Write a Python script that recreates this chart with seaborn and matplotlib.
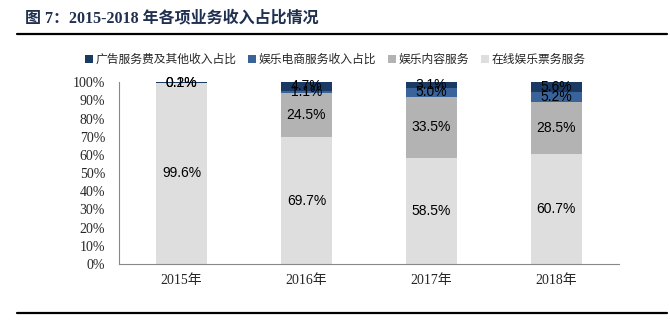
import matplotlib
matplotlib.use("Agg")
import matplotlib.pyplot as plt
import seaborn as sns
import pandas as pd
import numpy as np
from matplotlib.lines import Line2D
from matplotlib.patches import Patch

years = ["2015年", "2016年", "2017年", "2018年"]
series_names = ["广告服务费及其他收入占比", "娱乐电商服务收入占比", "娱乐内容服务", "在线娱乐票务服务"]
ticket = [99.6, 69.7, 58.5, 60.7]
content = [0.0, 24.5, 33.5, 28.5]
ecommerce = [0.1, 1.1, 5.0, 5.2]
advert = [0.2, 4.7, 3.1, 5.6]
colors = ["#1B3A63", "#3A6499", "#B3B3B3", "#DEDEDE"]

sns.set_style("white")
plt.rcParams['font.family'] = ['Liberation Serif', 'Noto Sans CJK SC']

fig = plt.figure(figsize=(6.7, 3.26), dpi=100)
ax = fig.add_axes([0.1776, 0.19, 0.746, 0.558])

stack_order = [(ticket, colors[3]), (content, colors[2]), (ecommerce, colors[1]), (advert, colors[0])]
bottom = np.zeros(len(years))
for vals, col in stack_order:
    df = pd.DataFrame({"year": years, "val": vals})
    sns.barplot(data=df, x="year", y="val", color=col, bottom=bottom, width=0.41,
                ax=ax, saturation=1, edgecolor="none", linewidth=0)
    for i, v in enumerate(vals):
        if v > 0:
            ax.text(i, bottom[i] + v / 2, f"{v:.1f}%", ha="center", va="center",
                    fontsize=10, family=["Liberation Sans"], color="black")
    bottom = bottom + np.array(vals)

ax.set_xlim(-0.5, 3.5)
ax.set_ylim(0, 100)
ax.set_yticks(np.arange(0, 101, 10))
ax.set_yticklabels([f"{t}%" for t in range(0, 101, 10)], fontsize=10)
ax.set_xlabel("")
ax.set_ylabel("")
ax.set_xticks(range(4))
ax.set_xticklabels(years, fontsize=10)
ax.tick_params(axis="x", length=0, pad=7)
ax.set_xticks([0.5, 1.5, 2.5, 3.5], minor=True)
ax.tick_params(axis="x", which="minor", direction="in", length=4, color="#888888")
ax.tick_params(axis="y", direction="out", length=3, color="#888888", pad=7)
for s in ["top", "right"]:
    ax.spines[s].set_visible(False)
ax.spines["left"].set_color("#888888")
ax.spines["bottom"].set_color("#888888")
ax.spines["left"].set_linewidth(0.8)
ax.spines["bottom"].set_linewidth(0.8)

handles = [Patch(facecolor=c, edgecolor="none") for c in colors]
fig.legend(handles, series_names, loc="center", bbox_to_anchor=(0.5, 0.818), ncol=4,
           frameon=False, handlelength=0.7, handleheight=0.7,
           handletextpad=0.2, columnspacing=1.0,
           prop={"family": ["Noto Sans CJK SC"], "size": 8.5})

fig.text(0.037, 0.945, "图 7：2015-2018 年各项业务收入占比情况", fontsize=11.5, fontweight="bold",
         color="#1F2F4F", ha="left", va="center", family=["Liberation Serif", "Noto Sans CJK SC"])
fig.add_artist(Line2D([0.025, 0.995], [0.895, 0.895], color="black", linewidth=1.6))
fig.add_artist(Line2D([0.025, 0.995], [0.04, 0.04], color="black", linewidth=1.6))

fig.savefig("out.png", dpi=100)
